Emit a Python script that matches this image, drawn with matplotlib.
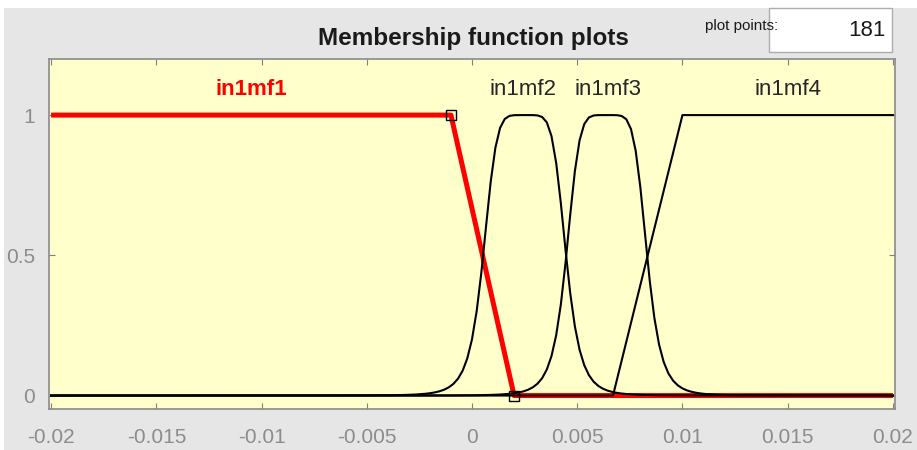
import numpy as np
import matplotlib.pyplot as plt
from matplotlib.patches import Rectangle

plot_points = 181
x_range = [-0.02, 0.02]

mf_names = ['in1mf1', 'in1mf2', 'in1mf3', 'in1mf4']
mf_types = ['trapmf', 'gbellmf', 'gbellmf', 'trapmf']
mf_params = [[-0.035, -0.02, -0.001, 0.002],
             [0.00197, 2.9, 0.0025],
             [0.00192, 2.9, 0.0064],
             [0.0067, 0.01, 0.02, 0.035]]
selected = 0

x_ticks = [-0.02, -0.015, -0.01, -0.005, 0, 0.005, 0.01, 0.015, 0.02]
x_tick_labels = ['-0.02', '-0.015', '-0.01', '-0.005', '0', '0.005', '0.01', '0.015', '0.02']
y_ticks = [0, 0.5, 1]
y_tick_labels = ['0', '0.5', '1']


def trapmf(x, p):
    a, b, c, d = p
    up = np.clip((x - a) / (b - a), 0, 1)
    down = np.clip((d - x) / (d - c), 0, 1)
    return np.minimum(up, down)


def gbellmf(x, p):
    a, b, c = p
    return 1.0 / (1.0 + np.abs((x - c) / a) ** (2 * b))


W, H = 917, 450
plt.rcParams['font.family'] = ['Liberation Sans', 'DejaVu Sans']
fig = plt.figure(figsize=(W / 100, H / 100), dpi=100, facecolor='white')

# grey panel behind everything (thin white strip on top and left in the screenshot)
fig.patches.append(Rectangle((4 / W, 0), 1, 1 - 8 / H, transform=fig.transFigure,
                             facecolor='#E6E6E6', edgecolor='none', zorder=-10))

ax = fig.add_axes([49 / W, 1 - 409 / H, (895 - 49) / W, (409 - 59) / H])
ax.set_facecolor('#FFFFCC')

x_grid = np.linspace(x_range[0], x_range[1], plot_points)
curves = []
for kind, p in zip(mf_types, mf_params):
    if kind == 'trapmf':
        xs = np.union1d(x_grid, [v for v in p if x_range[0] <= v <= x_range[1]])
        ys = trapmf(xs, p)
    else:
        xs = x_grid
        ys = gbellmf(xs, p)
    curves.append((xs, ys))

for i, (xs, ys) in enumerate(curves):
    if i == selected:
        ax.plot(xs, ys, color='#FF0000', lw=3.6, zorder=2, solid_capstyle='butt')
        p = mf_params[i]
        corners = [v for v in p if x_range[0] < v < x_range[1]]
        ax.plot(corners, trapmf(np.array(corners), p), ls='none', marker='s', ms=7.5,
                mfc='none', mec='black', mew=1.0, zorder=4)
    else:
        ax.plot(xs, ys, color='black', lw=1.5, zorder=3)

    # label at the middle of the region where the curve is at its top
    top = xs[ys >= ys.max() - 1e-9]
    xc = (top.min() + top.max()) / 2
    if i == selected:
        ax.text(xc, 1.09, mf_names[i], color='#FF0000', fontsize=16, fontweight='bold',
                ha='center', va='center')
    else:
        ax.text(xc, 1.09, mf_names[i], color='#262626', fontsize=16,
                ha='center', va='center')

ax.set_xlim(-0.0201, 0.0201)
ax.set_ylim(-0.048, 1.2)
ax.set_xticks(x_ticks)
ax.set_xticklabels(x_tick_labels)
ax.set_yticks(y_ticks)
ax.set_yticklabels(y_tick_labels)
ax.tick_params(direction='in', length=4, width=0.8, color='#808080', labelcolor='#8C8C8C',
               labelsize=15, top=True, right=True, pad=14)
ax.tick_params(axis='y', pad=10)
for s in ax.spines.values():
    s.set_color('#8A8A8A')
    s.set_linewidth(1.2)

fig.text(473 / W, 1 - 38 / H, 'Membership function plots', ha='center', va='center',
         fontsize=17.5, fontweight='bold', color='#1A1A1A')

# "plot points" box
fig.patches.append(Rectangle((769 / W, 1 - 52 / H), 123 / W, 44 / H, transform=fig.transFigure,
                             facecolor='white', edgecolor='#ADADAD', lw=1.0))
fig.text(742 / W, 1 - 26 / H, 'plot points:', ha='center', va='center',
         fontsize=11, color='#1A1A1A')
fig.text(886 / W, 1 - 31 / H, str(plot_points), ha='right', va='center',
         fontsize=16, color='#1A1A1A')

fig.savefig('out.png', dpi=100, facecolor=fig.get_facecolor())
